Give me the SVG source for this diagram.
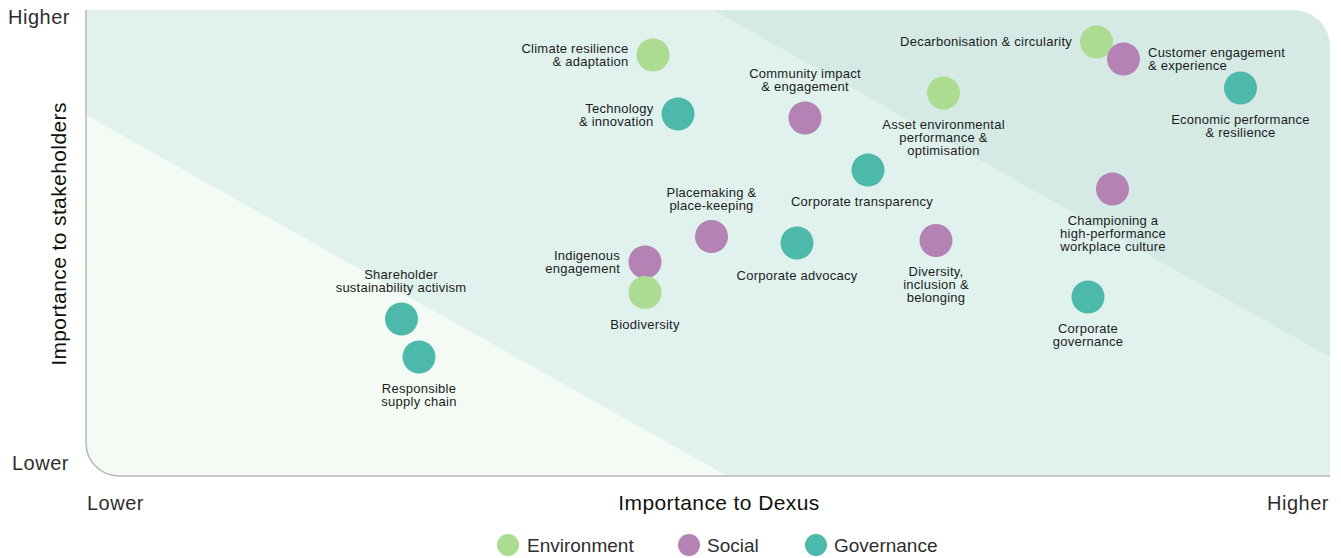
<svg xmlns="http://www.w3.org/2000/svg" width="1341" height="558" viewBox="0 0 1341 558">
<style>
.lbl{font-family:"Liberation Sans",Arial,sans-serif;font-size:13px;fill:#1c1c1c;letter-spacing:0.25px}
.ax{font-family:"Liberation Sans",Arial,sans-serif;font-size:20px;fill:#2e2e2e;letter-spacing:0.5px}
.ttl{font-family:"Liberation Sans",Arial,sans-serif;font-size:21px;fill:#111;letter-spacing:0.4px}
.leg{font-family:"Liberation Sans",Arial,sans-serif;font-size:19px;fill:#2e2e2e}
.env{fill:#acdb92}
.soc{fill:#b482b4}
.gov{fill:#4cb9aa}
.m{text-anchor:middle}
.e{text-anchor:end}
</style>
<defs>
<clipPath id="panel">
<path d="M86,10 H1293 A37,37 0 0 1 1330,47 V476 H119 A33,33 0 0 1 86,443 Z"/>
</clipPath>
</defs>
<g id="background" clip-path="url(#panel)">
<rect x="86" y="10" width="1244" height="466" fill="#e1f2ee"/>
<polygon points="713,10 1330,10 1330,357" fill="#d5eae5"/>
<polygon points="86,115 727,476 86,476" fill="#f4fbf4"/>
</g>
<path d="M86,10 V443 A33,33 0 0 0 119,476 H1330" fill="none" stroke="#b8b8b8" stroke-width="1.5"/>
<g id="axes">
<text class="ax" x="8" y="24">Higher</text>
<text class="ax" x="12" y="470">Lower</text>
<text class="ax" x="87" y="510">Lower</text>
<text class="ax e" x="1329" y="510">Higher</text>
<text class="ttl m" x="719" y="510">Importance to Dexus</text>
<text class="ttl m" transform="translate(66,234) rotate(-90)">Importance to stakeholders</text>
</g>
<g id="connectors"></g>
<g id="n-climate"><circle class="env" cx="653" cy="55" r="16.5"/><text class="lbl e" x="628.5" y="53">Climate resilience</text><text class="lbl e" x="628.5" y="66">&amp; adaptation</text></g>
<g id="n-technology"><circle class="gov" cx="678" cy="114" r="16.5"/><text class="lbl e" x="653.5" y="112.5">Technology</text><text class="lbl e" x="653.5" y="125.5">&amp; innovation</text></g>
<g id="n-community"><circle class="soc" cx="805" cy="118" r="16.5"/><text class="lbl m" x="805" y="78">Community impact</text><text class="lbl m" x="805" y="91">&amp; engagement</text></g>
<g id="n-asset"><circle class="env" cx="943.5" cy="93" r="16.5"/><text class="lbl m" x="943.5" y="129">Asset environmental</text><text class="lbl m" x="943.5" y="142">performance &amp;</text><text class="lbl m" x="943.5" y="155">optimisation</text></g>
<g id="n-transparency"><circle class="gov" cx="868" cy="170" r="16.5"/><text class="lbl m" x="862" y="206">Corporate transparency</text></g>
<g id="n-decarbonisation"><circle class="env" cx="1096.5" cy="42" r="16.5"/><text class="lbl e" x="1072" y="46">Decarbonisation &amp; circularity</text></g>
<g id="n-customer"><circle class="soc" cx="1123.5" cy="59" r="16.5"/><text class="lbl" x="1148" y="57">Customer engagement</text><text class="lbl" x="1148" y="70">&amp; experience</text></g>
<g id="n-economic"><circle class="gov" cx="1240.5" cy="88" r="16.5"/><text class="lbl m" x="1240.5" y="124">Economic performance</text><text class="lbl m" x="1240.5" y="137">&amp; resilience</text></g>
<g id="n-championing"><circle class="soc" cx="1112.5" cy="189" r="16.5"/><text class="lbl m" x="1113" y="225">Championing a</text><text class="lbl m" x="1113" y="238">high-performance</text><text class="lbl m" x="1113" y="251">workplace culture</text></g>
<g id="n-placemaking"><circle class="soc" cx="711.5" cy="236.5" r="16.5"/><text class="lbl m" x="711.5" y="196.5">Placemaking &amp;</text><text class="lbl m" x="711.5" y="209.5">place-keeping</text></g>
<g id="n-advocacy"><circle class="gov" cx="797" cy="243" r="16.5"/><text class="lbl m" x="797" y="279.5">Corporate advocacy</text></g>
<g id="n-diversity"><circle class="soc" cx="936" cy="240.5" r="16.5"/><text class="lbl m" x="936" y="276">Diversity,</text><text class="lbl m" x="936" y="289">inclusion &amp;</text><text class="lbl m" x="936" y="302">belonging</text></g>
<g id="n-indigenous"><circle class="soc" cx="645" cy="262" r="16.5"/><text class="lbl e" x="620" y="259.5">Indigenous</text><text class="lbl e" x="620" y="272.5">engagement</text></g>
<g id="n-biodiversity"><circle class="env" cx="645" cy="292.5" r="16.5"/><text class="lbl m" x="645" y="328.5">Biodiversity</text></g>
<g id="n-governance"><circle class="gov" cx="1088" cy="297" r="16.5"/><text class="lbl m" x="1088" y="333">Corporate</text><text class="lbl m" x="1088" y="346">governance</text></g>
<g id="n-shareholder"><circle class="gov" cx="401.5" cy="319" r="16.5"/><text class="lbl m" x="401" y="278.5">Shareholder</text><text class="lbl m" x="401" y="291.5">sustainability activism</text></g>
<g id="n-supply"><circle class="gov" cx="419" cy="357" r="16.5"/><text class="lbl m" x="419" y="393">Responsible</text><text class="lbl m" x="419" y="406">supply chain</text></g>
<g id="legend">
<circle class="env" cx="508" cy="545" r="11"/><text class="leg" x="527" y="551.5">Environment</text>
<circle class="soc" cx="689" cy="545" r="11"/><text class="leg" x="707" y="551.5">Social</text>
<circle class="gov" cx="816" cy="545" r="11"/><text class="leg" x="834" y="551.5">Governance</text>
</g>
</svg>
